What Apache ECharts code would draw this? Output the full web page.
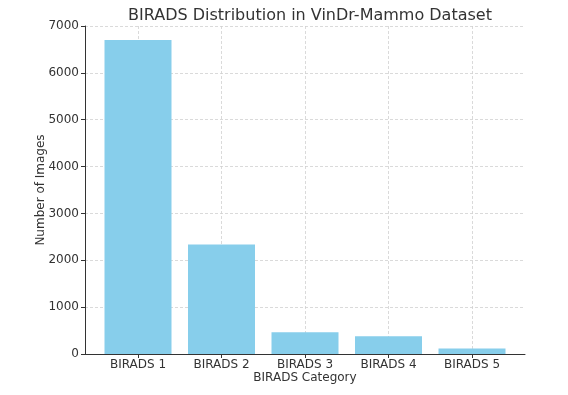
<!DOCTYPE html>
<html>
<head>
<meta charset="utf-8">
<script src="https://cdn.jsdelivr.net/npm/echarts@6/dist/echarts.min.js"></script>
<style>
  html, body { margin: 0; padding: 0; background: #fff; }
  #chart { width: 568px; height: 395px; }
</style>
</head>
<body>
<div id="chart"></div>
<script>
// data
const categories = ['BIRADS 1', 'BIRADS 2', 'BIRADS 3', 'BIRADS 4', 'BIRADS 5'];
const imageCounts = [6703, 2336, 465, 381, 115];
const yTicks = [0, 1000, 2000, 3000, 4000, 5000, 6000, 7000];

const textColor = '#333';
const font = 'DejaVu Sans';
const gridLine = { show: true, lineStyle: { color: '#d0d0d0', type: [3, 2], width: 0.8 } };

const chart = echarts.init(document.getElementById('chart'));
chart.setOption({
  animation: false,
  textStyle: { fontFamily: font },
  title: {
    text: 'BIRADS Distribution in VinDr-Mammo Dataset',
    left: 305, top: 3, textAlign: 'center',
    textStyle: { fontFamily: font, fontSize: 16, fontWeight: 'normal', color: textColor }
  },
  grid: [
    // outer frame: spines, y gridlines
    { left: 85, right: 43, top: 26, bottom: 41, outerBoundsMode: 'none' },
    // inner grid for the bars: first and last bar centres at the edges
    { left: 138, right: 96, top: 26, bottom: 41, outerBoundsMode: 'none' }
  ],
  xAxis: [
    {
      gridIndex: 0, type: 'value', min: 0, max: 1,
      axisLine: { show: true, lineStyle: { color: '#333', width: 1 } },
      axisTick: { show: false }, axisLabel: { show: false }, splitLine: { show: false },
      name: 'BIRADS Category', nameLocation: 'middle', nameGap: 18, nameMoveOverlap: false,
      nameTextStyle: { fontFamily: font, fontSize: 12, color: textColor, verticalAlign: 'top' }
    },
    {
      gridIndex: 1, type: 'category', data: categories, boundaryGap: false,
      axisLine: { show: false },
      axisTick: { show: true, inside: false, length: 4, lineStyle: { color: '#333' } },
      axisLabel: { fontFamily: font, fontSize: 12, color: textColor, margin: 5 },
      splitLine: gridLine
    }
  ],
  yAxis: [
    {
      gridIndex: 0, type: 'value', min: 0, max: 7000, interval: 1000,
      axisLine: { show: true, lineStyle: { color: '#333', width: 1 } },
      axisTick: { show: true, length: 4, lineStyle: { color: '#333' } },
      axisLabel: {
        fontFamily: font, fontSize: 12, color: textColor, margin: 6,
        customValues: yTicks,
        formatter: v => String(v)
      },
      splitLine: gridLine,
      name: 'Number of Images', nameLocation: 'middle', nameGap: 38, nameRotate: 90,
      nameMoveOverlap: false,
      nameTextStyle: { fontFamily: font, fontSize: 12, color: textColor }
    },
    {
      gridIndex: 1, type: 'value', min: 0, max: 7000, interval: 1000,
      show: false
    }
  ],
  series: [
    {
      type: 'bar',
      xAxisIndex: 1, yAxisIndex: 1,
      data: imageCounts,
      barWidth: 67,
      clip: false,
      itemStyle: { color: '#87CEEB' }
    }
  ]
});
</script>
</body>
</html>
